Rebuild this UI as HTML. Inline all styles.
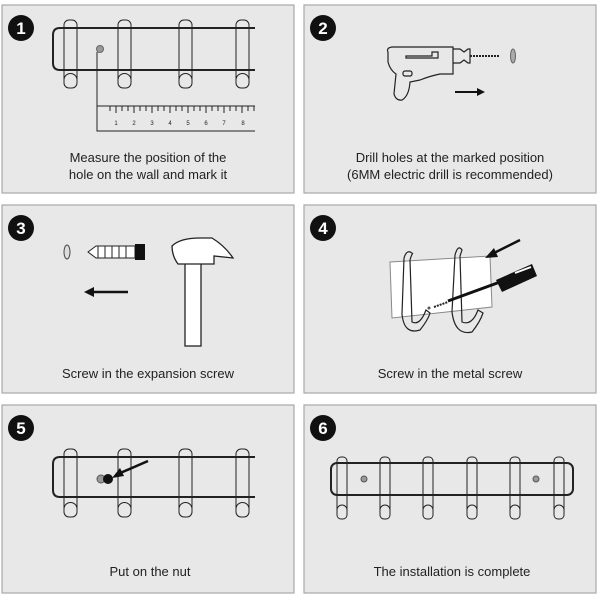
<!DOCTYPE html>
<html><head><style>
body{margin:0;background:#fff;}
svg{display:block;}
text{font-family:"Liberation Sans",sans-serif;fill:#222;}
</style></head><body>
<svg width="600" height="600" viewBox="0 0 600 600" xmlns="http://www.w3.org/2000/svg">
<g fill="#e8e8e8" stroke="#a8a8a8" stroke-width="1.2">
<rect x="2" y="5" width="292" height="188"/>
<rect x="304" y="5" width="292" height="188"/>
<rect x="2" y="205" width="292" height="188"/>
<rect x="304" y="205" width="292" height="188"/>
<rect x="2" y="405" width="292" height="188"/>
<rect x="304" y="405" width="292" height="188"/>
</g>
<g font-weight="bold" font-size="17" text-anchor="middle">
<circle cx="21" cy="28" r="13" fill="#111"/><text x="21" y="34" style="fill:#fff">1</text>
<circle cx="323" cy="28" r="13" fill="#111"/><text x="323" y="34" style="fill:#fff">2</text>
<circle cx="21" cy="228" r="13" fill="#111"/><text x="21" y="234" style="fill:#fff">3</text>
<circle cx="323" cy="228" r="13" fill="#111"/><text x="323" y="234" style="fill:#fff">4</text>
<circle cx="21" cy="428" r="13" fill="#111"/><text x="21" y="434" style="fill:#fff">5</text>
<circle cx="323" cy="428" r="13" fill="#111"/><text x="323" y="434" style="fill:#fff">6</text>
</g>
<!-- panel 1 -->
<g fill="none" stroke="#222">
<path d="M255 28 H60 Q53 28 53 35 V63 Q53 70 60 70 H255" stroke-width="2"/>
<g stroke-width="1">
<rect x="64" y="20" width="13" height="68" rx="5"/><path d="M64 80 a6.5 6.5 0 0 1 13 0"/>
<rect x="118" y="20" width="13" height="68" rx="5"/><path d="M118 80 a6.5 6.5 0 0 1 13 0"/>
<rect x="179" y="20" width="13" height="68" rx="5"/><path d="M179 80 a6.5 6.5 0 0 1 13 0"/>
<rect x="236" y="20" width="13" height="68" rx="5"/><path d="M236 80 a6.5 6.5 0 0 1 13 0"/>
<path d="M97 52 V131 H255 M97 106 H255"/>
<path d="M110 106v5M116 106v7M122 106v5M128 106v5M134 106v7M140 106v5M146 106v5M152 106v7M158 106v5M164 106v5M170 106v7M176 106v5M182 106v5M188 106v7M194 106v5M200 106v5M206 106v7M212 106v5M218 106v5M224 106v7M230 106v5M236 106v5M242 106v7M248 106v5M254 106v5"/>
</g>
<circle cx="100" cy="49" r="3.5" fill="#999" stroke="#666"/>
</g>
<g font-size="6" text-anchor="middle"><text x="116" y="125">1</text><text x="134" y="125">2</text><text x="152" y="125">3</text><text x="170" y="125">4</text><text x="188" y="125">5</text><text x="206" y="125">6</text><text x="224" y="125">7</text><text x="243" y="125">8</text></g>
<g font-size="13" text-anchor="middle"><text x="148" y="162">Measure the position of the</text><text x="148" y="179">hole on the wall and mark it</text></g>
<!-- panel 2 drill -->
<g fill="none" stroke="#222" stroke-width="1.2">
<path d="M388 52 Q386 48 392 47 H453 V74 L440 74 Q430 76 420 80 L410 82 Q409 96 402 100 Q396 101 394 94 L396 74 Q390 70 388 62 Z"/>
<path d="M406 56 H432 V52 H438 V58 H406 Z"/>
<rect x="403" y="71" width="9" height="5" rx="2"/>
<path d="M453 49 H460 L464 52 L468 49 H470 V63 H468 L464 60 L460 63 H453"/>
<line x1="470" y1="56" x2="500" y2="56" stroke-dasharray="2 1" stroke-width="2"/>
</g>
<ellipse cx="513" cy="56" rx="2.5" ry="7" fill="#aaa" stroke="#666"/>
<path d="M455 92 H478" stroke="#111" stroke-width="2"/><path d="M485 92 L477 88 V96Z" fill="#111"/>
<g font-size="13" text-anchor="middle"><text x="450" y="162">Drill holes at the marked position</text><text x="450" y="179">(6MM electric drill is recommended)</text></g>
<!-- panel 3 -->
<ellipse cx="67" cy="252" rx="3" ry="7" fill="#ddd" stroke="#444"/>
<path d="M88 252 L96 246 H135 V258 H96 Z" fill="#fff" stroke="#222"/>
<rect x="135" y="244" width="10" height="16" fill="#111"/>
<path d="M98 246 V258 M105 246 V258 M112 246 V258 M119 246 V258 M126 246 V258" stroke="#222"/>
<path d="M92 292 H128" stroke="#111" stroke-width="2.5"/><path d="M84 292 L94 287 V297Z" fill="#111"/>
<g fill="#fff" stroke="#222" stroke-width="1.3">
<rect x="185" y="258" width="16" height="88"/>
<path d="M172 246 Q180 238 200 238 H212 Q225 246 233 258 L214 256 V264 H178 Q172 256 172 246 Z"/>
</g>
<text x="148" y="378" font-size="13" text-anchor="middle">Screw in the expansion screw</text>
<!-- panel 4 -->
<path d="M390 262 L490 256 L492 307 L392 318 Z" fill="#fff" stroke="#888"/>
<g fill="none" stroke="#222" stroke-width="1.2">
<path d="M413 254 Q407 248 404 258 L402 314 Q404 335 420 330 Q428 320 430 313 L426 310 Q420 326 412 322 L410 260 Q412 253 413 254Z"/>
<path d="M462 250 Q458 244 455 255 L452 312 Q455 336 472 332 Q480 322 483 313 L478 310 Q472 326 462 322 L460 256 Z"/>
</g>
<path d="M434 307 L448 302" stroke="#222" stroke-width="2" stroke-dasharray="2 1"/>
<circle cx="429" cy="308" r="1.5" fill="#555"/>
<path d="M448 301 L500 282" stroke="#111" stroke-width="3"/>
<path d="M496 280 L532 264 L537 276 L502 292 Z" fill="#111"/>
<path d="M515 273 L531 267" stroke="#fff" stroke-width="2"/>
<path d="M520 240 L492 254" stroke="#111" stroke-width="2.5"/><path d="M485 258 L494 248 L498 257Z" fill="#111"/>
<text x="450" y="378" font-size="13" text-anchor="middle">Screw in the metal screw</text>
<!-- panel 5 -->
<g fill="none" stroke="#222">
<path d="M255 457 H60 Q53 457 53 464 V490 Q53 497 60 497 H255" stroke-width="2"/>
<g stroke-width="1">
<rect x="64" y="449" width="13" height="68" rx="5"/><path d="M64 509 a6.5 6.5 0 0 1 13 0"/>
<rect x="118" y="449" width="13" height="68" rx="5"/><path d="M118 509 a6.5 6.5 0 0 1 13 0"/>
<rect x="179" y="449" width="13" height="68" rx="5"/><path d="M179 509 a6.5 6.5 0 0 1 13 0"/>
<rect x="236" y="449" width="13" height="68" rx="5"/><path d="M236 509 a6.5 6.5 0 0 1 13 0"/>
</g>
</g>
<circle cx="101" cy="479" r="4" fill="#999" stroke="#555"/>
<circle cx="108" cy="479" r="5" fill="#111"/>
<path d="M148 461 L118 474" stroke="#111" stroke-width="2.5"/><path d="M112 478 L120 468 L124 476Z" fill="#111"/>
<text x="150" y="576" font-size="13" text-anchor="middle">Put on the nut</text>
<!-- panel 6 -->
<g fill="none" stroke="#222">
<rect x="331" y="463" width="242" height="32" rx="6" stroke-width="2"/>
<g stroke-width="1">
<rect x="337" y="457" width="10" height="62" rx="4"/><path d="M337 510 a5 5 0 0 1 10 0"/>
<rect x="380" y="457" width="10" height="62" rx="4"/><path d="M380 510 a5 5 0 0 1 10 0"/>
<rect x="423" y="457" width="10" height="62" rx="4"/><path d="M423 510 a5 5 0 0 1 10 0"/>
<rect x="467" y="457" width="10" height="62" rx="4"/><path d="M467 510 a5 5 0 0 1 10 0"/>
<rect x="510" y="457" width="10" height="62" rx="4"/><path d="M510 510 a5 5 0 0 1 10 0"/>
<rect x="554" y="457" width="10" height="62" rx="4"/><path d="M554 510 a5 5 0 0 1 10 0"/>
</g>
</g>
<circle cx="364" cy="479" r="3" fill="#999" stroke="#555"/>
<circle cx="536" cy="479" r="3" fill="#999" stroke="#555"/>
<text x="452" y="576" font-size="13" text-anchor="middle">The installation is complete</text>
</svg>
</body></html>
